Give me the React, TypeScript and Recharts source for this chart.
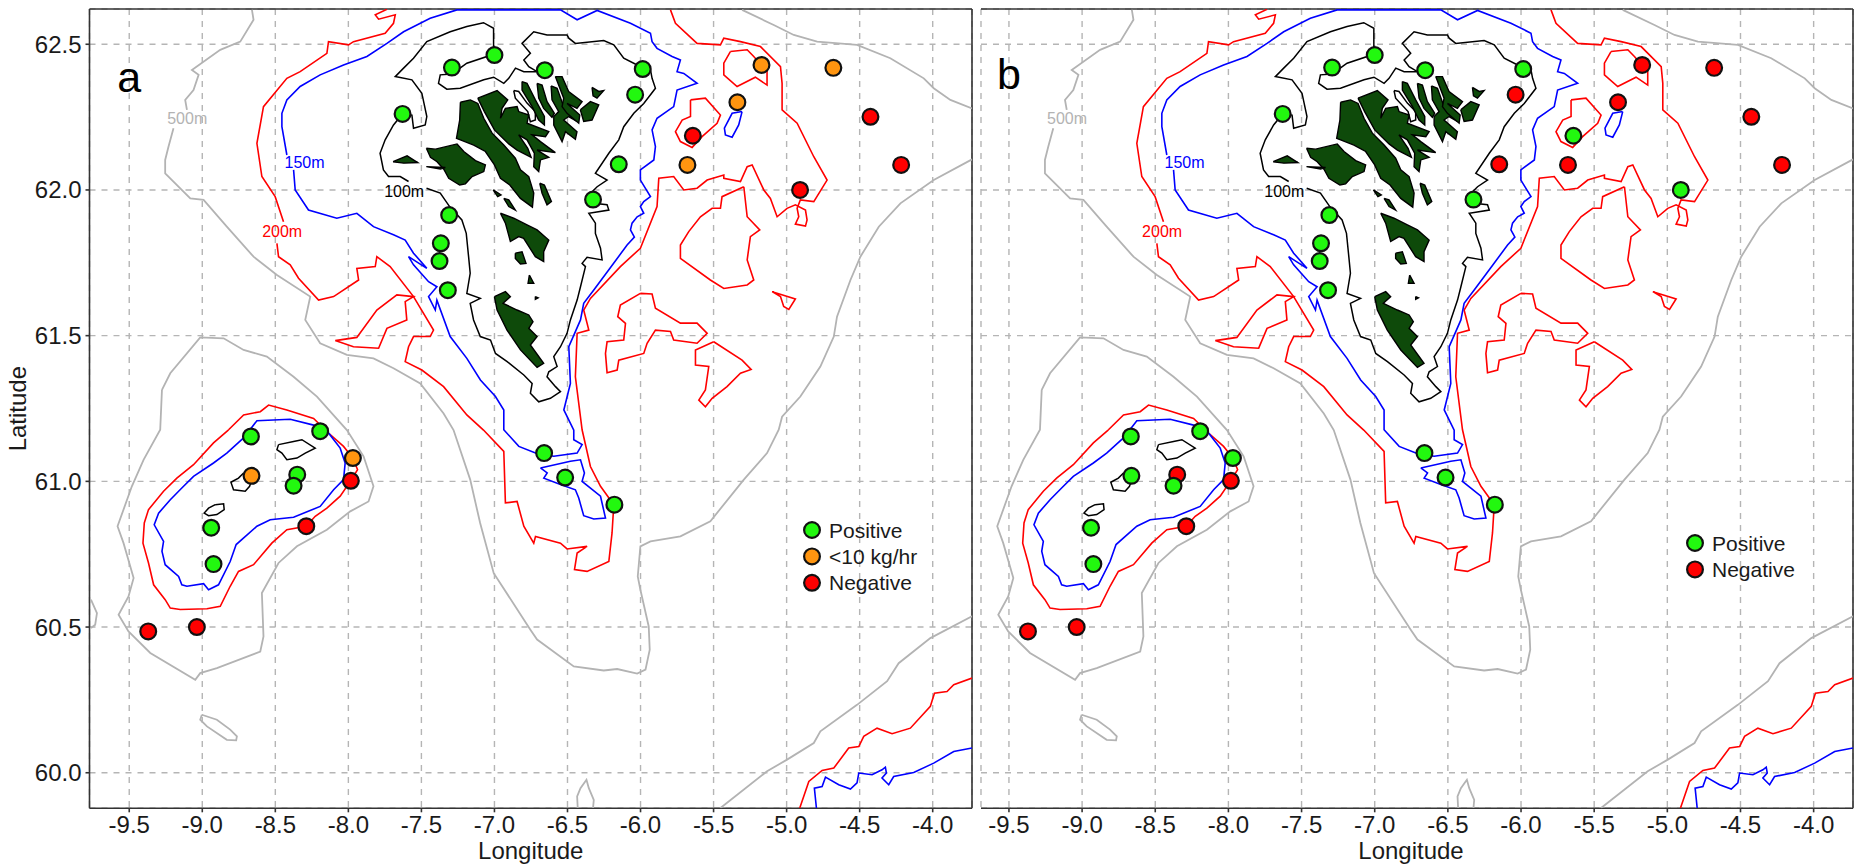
import { CartesianGrid, Legend, ReferenceDot, ReferenceLine, Scatter, ScatterChart, XAxis, YAxis } from "recharts"

type Pt = [number, number]
type Status = "pos" | "low" | "neg"

const lonTicks = [-9.5, -9, -8.5, -8, -7.5, -7, -6.5, -6, -5.5, -5, -4.5, -4]
const latTicks = [60, 60.5, 61, 61.5, 62, 62.5]

// 500 m contours
const grey500Main: Pt[] = [[-8.66,62.618],[-8.649,62.584],[-8.74,62.509],[-8.877,62.481],[-9.071,62.412],[-9.025,62.395],[-9.06,62.343],[-9.117,62.309],[-9.105,62.275]]
const grey500Shelf: Pt[] = [[-9.197,62.212],[-9.231,62.149],[-9.254,62.103],[-9.254,62.057],[-9.082,61.971],[-8.991,61.966],[-8.832,61.874],[-8.649,61.771],[-8.489,61.708],[-8.261,61.634],[-8.295,61.554],[-8.193,61.474],[-8.01,61.434],[-7.828,61.422],[-7.691,61.388],[-7.508,61.336],[-7.348,61.233],[-7.28,61.176],[-7.166,61.006],[-7.098,60.857],[-7.005,60.685],[-6.754,60.491],[-6.708,60.457],[-6.457,60.365],[-6.252,60.351],[-6.16,60.356],[-6.023,60.34],[-5.966,60.354],[-5.937,60.422],[-5.944,60.502],[-6.001,60.628],[-6.019,60.674],[-6.001,60.777],[-5.932,60.794],[-5.727,60.811],[-5.522,60.863],[-5.293,61.006],[-5.134,61.097],[-5.054,61.177],[-5.031,61.222],[-4.906,61.291],[-4.769,61.394],[-4.677,61.497],[-4.655,61.565],[-4.563,61.691],[-4.495,61.771],[-4.369,61.874],[-4.221,61.954],[-3.993,62.034],[-3.731,62.105]]
const grey500North: Pt[] = [[-5.305,62.618],[-5.088,62.566],[-4.951,62.532],[-4.791,62.509],[-4.518,62.498],[-4.29,62.452],[-4.061,62.383],[-3.993,62.349],[-3.879,62.309],[-3.731,62.28]]
const grey500Bailey: Pt[] = [[-9.276,61.314],[-9.219,61.371],[-9.014,61.494],[-8.854,61.491],[-8.717,61.451],[-8.558,61.428],[-8.375,61.359],[-8.215,61.291],[-8.01,61.176],[-7.896,61.086],[-7.828,60.983],[-7.862,60.931],[-7.987,60.897],[-8.147,60.834],[-8.352,60.777],[-8.478,60.72],[-8.592,60.617],[-8.581,60.468],[-8.603,60.416],[-8.9,60.359],[-9.014,60.342],[-9.048,60.319],[-9.356,60.411],[-9.505,60.485],[-9.573,60.542],[-9.505,60.605],[-9.47,60.668],[-9.539,60.788],[-9.58,60.846],[-9.482,60.983],[-9.402,61.074],[-9.288,61.177],[-9.276,61.314]]
const grey500Edge: Pt[] = [[-9.762,60.594],[-9.721,60.548],[-9.733,60.508],[-9.762,60.497]]
const grey500Blob: Pt[] = [[-9.003,60.199],[-8.9,60.182],[-8.809,60.148],[-8.763,60.125],[-8.768,60.111],[-8.832,60.113],[-8.968,60.159],[-9.014,60.182],[-9.003,60.199]]
const grey500South: Pt[] = [[-6.43,59.879],[-6.434,59.919],[-6.411,59.947],[-6.37,59.976],[-6.354,59.947],[-6.32,59.907],[-6.325,59.879]]
const grey500Corner: Pt[] = [[-5.453,59.879],[-5.134,60.005],[-4.997,60.045],[-4.814,60.102],[-4.769,60.142],[-4.518,60.233],[-4.312,60.314],[-4.233,60.376],[-4.016,60.462],[-3.731,60.537]]

// 200 m contours
const red200North: Pt[] = [[-7.736,62.62],[-7.816,62.601],[-7.793,62.586],[-7.679,62.601],[-7.691,62.572],[-7.748,62.538],[-7.965,62.509],[-7.999,62.498],[-8.136,62.509],[-8.147,62.469],[-8.33,62.406],[-8.421,62.383],[-8.581,62.286],[-8.626,62.16],[-8.592,62.046],[-8.501,61.977],[-8.444,61.891]]
const red200Main: Pt[] = [[-8.489,61.817],[-8.478,61.771],[-8.398,61.743],[-8.341,61.697],[-8.204,61.622],[-8.101,61.634],[-7.93,61.691],[-7.942,61.731],[-7.816,61.737],[-7.805,61.771],[-7.714,61.737],[-7.554,61.634],[-7.417,61.519],[-7.44,61.497],[-7.554,61.497],[-7.588,61.462],[-7.611,61.411],[-7.497,61.382],[-7.348,61.325],[-7.189,61.228],[-7.075,61.176],[-6.936,61.103],[-6.925,60.926],[-6.845,60.931],[-6.799,60.846],[-6.731,60.788],[-6.719,60.811],[-6.548,60.788],[-6.503,60.768],[-6.366,60.777],[-6.434,60.754],[-6.452,60.697],[-6.366,60.691],[-6.217,60.725],[-6.195,60.823],[-6.183,60.92],[-6.274,60.983],[-6.343,61.051],[-6.4,61.177],[-6.446,61.359],[-6.434,61.508],[-6.354,61.519],[-6.389,61.588],[-6.343,61.628],[-6.138,61.737],[-6.001,61.8],[-5.887,61.943],[-5.875,62.04],[-5.773,62.046],[-5.704,62],[-5.613,62.006],[-5.544,62.034],[-5.43,62.051],[-5.43,62.04],[-5.316,62.029],[-5.27,62.08],[-5.236,62.086],[-5.156,62],[-5.111,61.971],[-5.065,61.908],[-4.997,61.937],[-4.94,61.949],[-4.871,61.931],[-4.86,61.897],[-4.871,61.876],[-4.94,61.883],[-4.917,61.908],[-4.928,61.937],[-4.906,61.966],[-4.814,61.96],[-4.723,62.034],[-4.814,62.114],[-4.928,62.229],[-5.031,62.275],[-5.031,62.366],[-5.042,62.423],[-5.179,62.492],[-5.316,62.509],[-5.43,62.521],[-5.453,62.498],[-5.613,62.503],[-5.761,62.572],[-5.795,62.618]]
const red200LoopA: Pt[] = [[-5.385,62.475],[-5.27,62.481],[-5.225,62.458],[-5.134,62.406],[-5.134,62.36],[-5.214,62.387],[-5.339,62.355],[-5.43,62.395],[-5.43,62.435],[-5.385,62.475]]
const red200LoopB: Pt[] = [[-5.658,62.309],[-5.556,62.315],[-5.453,62.257],[-5.476,62.229],[-5.579,62.183],[-5.647,62.146],[-5.727,62.166],[-5.761,62.2],[-5.715,62.24],[-5.658,62.252],[-5.658,62.309]]
const red200Triangle: Pt[] = [[-5.293,62.011],[-5.27,61.908],[-5.184,61.863],[-5.248,61.84],[-5.27,61.76],[-5.225,61.691],[-5.27,61.674],[-5.43,61.662],[-5.522,61.691],[-5.727,61.765],[-5.727,61.811],[-5.67,61.857],[-5.59,61.908],[-5.51,61.937],[-5.453,61.937],[-5.442,61.977],[-5.293,62.011]]
const red200Small: Pt[] = [[-5.099,61.651],[-4.94,61.626],[-4.985,61.59],[-5.02,61.6],[-5.042,61.634],[-5.099,61.651]]
const red200Long: Pt[] = [[-6.001,61.645],[-5.921,61.643],[-5.898,61.594],[-5.727,61.543],[-5.613,61.543],[-5.544,61.508],[-5.613,61.474],[-5.773,61.485],[-5.795,61.514],[-5.898,61.519],[-5.955,61.474],[-5.978,61.439],[-6.149,61.416],[-6.16,61.382],[-6.229,61.373],[-6.24,61.439],[-6.229,61.479],[-6.115,61.485],[-6.103,61.542],[-6.156,61.565],[-6.138,61.605],[-6.001,61.645]]
const red200Hook: Pt[] = [[-5.499,61.479],[-5.305,61.416],[-5.243,61.384],[-5.316,61.371],[-5.408,61.325],[-5.51,61.285],[-5.556,61.256],[-5.601,61.279],[-5.556,61.314],[-5.533,61.394],[-5.624,61.399],[-5.624,61.451],[-5.499,61.479]]
const red200West: Pt[] = [[-8.09,61.483],[-7.942,61.494],[-7.805,61.588],[-7.668,61.64],[-7.554,61.634],[-7.611,61.617],[-7.6,61.554],[-7.736,61.525],[-7.793,61.457],[-7.965,61.462],[-8.09,61.483]]
const red200Bailey: Pt[] = [[-8.82,61.177],[-8.717,61.228],[-8.603,61.239],[-8.546,61.262],[-8.421,61.245],[-8.238,61.216],[-8.136,61.166],[-8.033,61.12],[-7.969,61.08],[-7.937,61.04],[-7.987,61],[-8.056,60.949],[-8.147,60.908],[-8.227,60.88],[-8.288,60.846],[-8.421,60.834],[-8.524,60.788],[-8.649,60.714],[-8.752,60.691],[-8.809,60.64],[-8.877,60.571],[-8.968,60.563],[-9.151,60.56],[-9.219,60.565],[-9.254,60.594],[-9.333,60.645],[-9.368,60.72],[-9.406,60.788],[-9.397,60.857],[-9.368,60.903],[-9.265,60.966],[-9.174,61.011],[-9.06,61.057],[-8.923,61.132],[-8.82,61.177]]
const red200Corner: Pt[] = [[-4.91,59.879],[-4.848,59.97],[-4.757,60.008],[-4.677,60.016],[-4.575,60.085],[-4.506,60.09],[-4.472,60.125],[-4.381,60.153],[-4.278,60.134],[-4.153,60.153],[-4.016,60.228],[-3.988,60.273],[-3.902,60.279],[-3.856,60.302],[-3.731,60.325]]

// 150 m contours
const blue150North: Pt[] = [[-8.421,62.12],[-8.455,62.217],[-8.455,62.263],[-8.421,62.309],[-8.33,62.355],[-8.193,62.395],[-8.033,62.429],[-7.873,62.458],[-7.736,62.503],[-7.622,62.543],[-7.44,62.589],[-7.257,62.618],[-6.548,62.618],[-6.434,62.584],[-6.297,62.616],[-6.069,62.572],[-5.932,62.538],[-5.921,62.509],[-5.887,62.486],[-5.784,62.458],[-5.727,62.446],[-5.75,62.406],[-5.704,62.4],[-5.613,62.366],[-5.75,62.343],[-5.773,62.286],[-5.887,62.246],[-5.921,62.206],[-5.898,62.149],[-5.909,62.103],[-6.001,62.069],[-6.001,62.034],[-5.932,61.977],[-5.978,61.96],[-6.001,61.943],[-5.978,61.92],[-6.023,61.908],[-6.058,61.886],[-6.069,61.863],[-6.042,61.838],[-6.092,61.811],[-6.217,61.726],[-6.32,61.657],[-6.389,61.611],[-6.411,61.554],[-6.491,61.462],[-6.48,61.336],[-6.525,61.245],[-6.457,61.176],[-6.457,61.143],[-6.4,61.126],[-6.434,61.097],[-6.594,61.086],[-6.719,61.097],[-6.833,61.12],[-6.936,61.177],[-6.936,61.245],[-6.993,61.291],[-7.096,61.348],[-7.189,61.422],[-7.303,61.497],[-7.394,61.622],[-7.405,61.588],[-7.451,61.634],[-7.394,61.668],[-7.451,61.685],[-7.554,61.743],[-7.588,61.771],[-7.463,61.731],[-7.554,61.783],[-7.611,61.828],[-7.691,61.846],[-7.828,61.874],[-7.942,61.92],[-8.079,61.903],[-8.273,61.931],[-8.364,62],[-8.375,62.069]]
const blue150Loop: Pt[] = [[-6.685,61.046],[-6.48,61.069],[-6.411,61.074],[-6.384,61.029],[-6.4,61],[-6.274,60.949],[-6.24,60.874],[-6.32,60.871],[-6.389,60.882],[-6.423,60.943],[-6.446,60.971],[-6.548,60.989],[-6.662,61.011],[-6.639,61.029],[-6.685,61.046]]
const blue150Small: Pt[] = [[-5.305,62.269],[-5.328,62.223],[-5.373,62.181],[-5.419,62.189],[-5.426,62.212],[-5.373,62.263],[-5.305,62.269]]
const blue150Bailey: Pt[] = [[-8.717,61.149],[-8.832,61.097],[-8.923,61.063],[-9.06,61.017],[-9.14,60.977],[-9.219,60.937],[-9.299,60.891],[-9.329,60.851],[-9.265,60.794],[-9.276,60.76],[-9.254,60.714],[-9.162,60.674],[-9.14,60.645],[-9.105,60.64],[-8.991,60.649],[-8.957,60.628],[-8.889,60.645],[-8.809,60.725],[-8.768,60.783],[-8.626,60.846],[-8.535,60.868],[-8.375,60.877],[-8.193,60.914],[-8.101,60.971],[-8.033,61.006],[-8.022,61.063],[-8.056,61.114],[-8.136,61.166],[-8.238,61.193],[-8.398,61.213],[-8.626,61.208],[-8.717,61.149]]
const blue150Corner: Pt[] = [[-4.796,59.879],[-4.81,59.947],[-4.757,59.953],[-4.734,59.985],[-4.643,59.959],[-4.563,59.944],[-4.518,59.965],[-4.506,59.999],[-4.415,59.993],[-4.347,60.01],[-4.324,60.019],[-4.317,59.999],[-4.347,59.982],[-4.301,59.959],[-4.267,59.987],[-4.13,60.001],[-3.993,60.033],[-3.856,60.073],[-3.731,60.085]]

// 100 m contours
const black100Main: Pt[] = [[-7.465,62.006],[-7.371,61.989],[-7.307,61.943],[-7.223,61.897],[-7.193,61.851],[-7.177,61.771],[-7.166,61.714],[-7.189,61.645],[-7.097,61.628],[-7.166,61.611],[-7.143,61.554],[-7.097,61.497],[-7.027,61.485],[-6.993,61.439],[-6.913,61.411],[-6.799,61.365],[-6.742,61.336],[-6.754,61.302],[-6.697,61.273],[-6.617,61.285],[-6.548,61.308],[-6.582,61.325],[-6.64,61.359],[-6.628,61.376],[-6.571,61.394],[-6.594,61.428],[-6.548,61.462],[-6.503,61.508],[-6.48,61.554],[-6.434,61.622],[-6.411,61.668],[-6.377,61.737],[-6.4,61.748],[-6.366,61.769],[-6.263,61.76],[-6.274,61.8],[-6.309,61.851],[-6.309,61.886],[-6.354,61.92],[-6.217,61.931],[-6.229,61.949],[-6.32,61.954],[-6.366,61.977],[-6.297,62.011],[-6.229,62.034],[-6.309,62.057],[-6.217,62.126],[-6.149,62.172],[-6.115,62.217],[-6.046,62.263],[-5.978,62.297],[-5.898,62.349],[-5.921,62.383],[-5.932,62.412],[-6.023,62.429],[-6.115,62.452],[-6.183,62.498],[-6.252,62.513],[-6.446,62.503],[-6.491,62.521],[-6.503,62.532],[-6.64,62.532],[-6.731,62.543],[-6.811,62.503],[-6.754,62.469],[-6.799,62.446],[-6.765,62.423],[-6.708,62.406],[-6.799,62.406],[-6.856,62.418],[-6.902,62.383],[-6.936,62.366],[-7.005,62.387],[-7.073,62.378],[-7.234,62.349],[-7.326,62.346],[-7.383,62.366],[-7.371,62.395],[-7.291,62.398],[-7.189,62.435],[-7.052,62.458],[-7.006,62.492],[-7.006,62.555],[-7.075,62.574],[-7.189,62.561],[-7.303,62.543],[-7.463,62.509],[-7.554,62.452],[-7.622,62.418],[-7.679,62.389],[-7.565,62.378],[-7.497,62.332],[-7.463,62.252],[-7.474,62.223],[-7.554,62.212],[-7.565,62.257],[-7.629,62.261],[-7.691,62.223],[-7.748,62.172],[-7.783,62.126],[-7.76,62.069],[-7.725,62.046],[-7.645,62.046],[-7.588,62.029]]
const black100IslandA: Pt[] = [[-8.478,61.126],[-8.375,61.137],[-8.318,61.143],[-8.227,61.114],[-8.295,61.097],[-8.352,61.08],[-8.421,61.074],[-8.455,61.097],[-8.489,61.109],[-8.478,61.126]]
const black100IslandB: Pt[] = [[-8.717,61.029],[-8.66,61.006],[-8.676,60.983],[-8.706,60.966],[-8.786,60.971],[-8.804,60.997],[-8.752,61.011],[-8.717,61.029]]
const black100IslandC: Pt[] = [[-8.911,60.92],[-8.854,60.923],[-8.85,60.903],[-8.9,60.886],[-8.957,60.882],[-8.987,60.891],[-8.957,60.908],[-8.911,60.92]]
const black100Sliver: Pt[] = [[-6.868,62.341],[-6.834,62.338],[-6.777,62.298],[-6.72,62.269],[-6.72,62.24],[-6.754,62.234],[-6.772,62.269],[-6.857,62.315],[-6.868,62.341]]

// Land
const streymoy: Pt[] = [[-7.233,62.301],[-7.165,62.309],[-7.114,62.297],[-7.073,62.246],[-7.016,62.195],[-6.936,62.154],[-6.857,62.109],[-6.822,62.069],[-6.765,62.046],[-6.731,61.989],[-6.74,61.941],[-6.822,61.971],[-6.895,62.017],[-6.959,62.04],[-7,62.086],[-7.062,62.132],[-7.142,62.154],[-7.26,62.177],[-7.238,62.24],[-7.233,62.301]]
const eysturoy: Pt[] = [[-7.114,62.315],[-6.982,62.341],[-6.909,62.309],[-6.948,62.28],[-6.959,62.246],[-6.925,62.28],[-6.845,62.286],[-6.834,62.269],[-6.765,62.257],[-6.777,62.229],[-6.628,62.2],[-6.651,62.183],[-6.743,62.189],[-6.685,62.166],[-6.583,62.128],[-6.708,62.137],[-6.628,62.112],[-6.685,62.103],[-6.697,62.063],[-6.731,62.08],[-6.727,62.126],[-6.777,62.172],[-6.834,62.189],[-6.772,62.143],[-6.749,62.112],[-6.845,62.137],[-6.902,62.158],[-7,62.206],[-7.069,62.269],[-7.114,62.315]]
const vagar: Pt[] = [[-7.466,62.143],[-7.404,62.14],[-7.256,62.158],[-7.21,62.132],[-7.13,62.101],[-7.062,62.086],[-7.073,62.063],[-7.153,62.046],[-7.199,62.021],[-7.238,62.017],[-7.313,62.04],[-7.347,62.071],[-7.393,62.097],[-7.438,62.112],[-7.466,62.143]]
const tindholmur: Pt[] = [[-7.466,62.08],[-7.336,62.077],[-7.37,62.072],[-7.466,62.08]]
const kalsoy: Pt[] = [[-6.811,62.372],[-6.777,62.366],[-6.72,62.309],[-6.658,62.252],[-6.658,62.223],[-6.697,62.24],[-6.742,62.286],[-6.811,62.343],[-6.811,62.372]]
const kunoy: Pt[] = [[-6.708,62.366],[-6.674,62.36],[-6.64,62.303],[-6.59,62.263],[-6.606,62.249],[-6.663,62.28],[-6.697,62.315],[-6.708,62.366]]
const bordoy: Pt[] = [[-6.612,62.357],[-6.571,62.349],[-6.526,62.286],[-6.435,62.235],[-6.492,62.252],[-6.526,62.24],[-6.435,62.2],[-6.446,62.174],[-6.514,62.2],[-6.537,62.166],[-6.594,62.223],[-6.594,62.252],[-6.56,62.269],[-6.606,62.309],[-6.612,62.357]]
const vidoy: Pt[] = [[-6.583,62.389],[-6.537,62.389],[-6.492,62.338],[-6.4,62.303],[-6.435,62.28],[-6.503,62.297],[-6.416,62.257],[-6.423,62.229],[-6.503,62.263],[-6.537,62.286],[-6.526,62.315],[-6.583,62.389]]
const svinoy: Pt[] = [[-6.412,62.275],[-6.343,62.303],[-6.286,62.292],[-6.332,62.24],[-6.389,62.235],[-6.412,62.275]]
const fugloy: Pt[] = [[-6.332,62.352],[-6.286,62.338],[-6.252,62.341],[-6.298,62.315],[-6.325,62.323],[-6.332,62.352]]
const mykines: Pt[] = [[-7.694,62.097],[-7.598,62.117],[-7.525,62.094],[-7.621,62.092],[-7.694,62.097]]
const nolsoy: Pt[] = [[-6.69,62.023],[-6.658,62.017],[-6.61,61.96],[-6.64,61.949],[-6.674,61.989],[-6.69,62.023]]
const koltur: Pt[] = [[-7.009,62],[-6.955,61.983],[-6.978,61.977],[-7.009,62]]
const hestur: Pt[] = [[-6.936,61.971],[-6.902,61.966],[-6.857,61.931],[-6.902,61.943],[-6.936,61.971]]
const sandoy: Pt[] = [[-6.959,61.92],[-6.868,61.903],[-6.777,61.88],[-6.708,61.863],[-6.628,61.828],[-6.663,61.788],[-6.663,61.754],[-6.72,61.771],[-6.8,61.834],[-6.834,61.84],[-6.891,61.823],[-6.925,61.886],[-6.959,61.92]]
const skuvoy: Pt[] = [[-6.857,61.783],[-6.811,61.788],[-6.784,61.748],[-6.822,61.746],[-6.857,61.765],[-6.857,61.783]]
const storaDimun: Pt[] = [[-6.761,61.708],[-6.731,61.68],[-6.77,61.68],[-6.761,61.708]]
const litlaDimun: Pt[] = [[-6.72,61.634],[-6.701,61.63],[-6.72,61.625],[-6.72,61.634]]
const suduroy: Pt[] = [[-7,61.634],[-6.925,61.651],[-6.891,61.634],[-6.941,61.611],[-6.845,61.588],[-6.765,61.571],[-6.736,61.548],[-6.765,61.525],[-6.708,61.497],[-6.754,61.468],[-6.663,61.405],[-6.708,61.391],[-6.822,61.451],[-6.914,61.519],[-6.982,61.588],[-7,61.634]]

// Stations: longitude, latitude, result in panel a, result in panel b
const stationLon = [-7.291,-7,-6.655,-5.985,-6.037,-7.629,-6.149,-6.325,-7.31,-7.367,-7.376,-7.319,-6.66,-6.516,-6.179,-8.667,-8.193,-8.35,-8.375,-8.939,-8.923,-8.663,-7.969,-5.172,-4.68,-5.337,-5.679,-5.642,-4.908,-4.426,-4.216,-7.983,-8.288,-9.37,-9.037]
const stationLat = [62.42,62.463,62.411,62.415,62.327,62.261,62.088,61.967,61.914,61.817,61.756,61.656,61.097,61.013,60.92,61.154,61.172,61.023,60.985,60.841,60.716,61.019,61.08,62.429,62.419,62.301,62.086,62.186,62,62.251,62.086,61.002,60.846,60.485,60.5]
const resultA: Status[] = ["pos","pos","pos","pos","pos","pos","pos","pos","pos","pos","pos","pos","pos","pos","pos","pos","pos","pos","pos","pos","pos","low","low","low","low","low","low","neg","neg","neg","neg","neg","neg","neg","neg"]
const resultB: Status[] = ["pos","pos","pos","pos","neg","pos","neg","pos","pos","pos","pos","pos","pos","pos","pos","pos","pos","neg","pos","pos","pos","pos","pos","neg","neg","neg","neg","pos","pos","neg","neg","neg","neg","neg","neg"]

const contourLabels = [
  { text: "500m", lon: -9.103, lat: 62.246, color: "#b3b3b3" },
  { text: "150m", lon: -8.3, lat: 62.095, color: "#0000ff" },
  { text: "200m", lon: -8.453, lat: 61.857, color: "#ff0000" },
  { text: "100m", lon: -7.618, lat: 61.997, color: "#000000" },
]

const statusColor: Record<Status, string> = { pos: "#22f80f", low: "#ff9510", neg: "#ff0000" }
const statusName: Record<Status, string> = { pos: "Positive", low: "<10 kg/hr", neg: "Negative" }

const GREY = "#b3b3b3"
const LAND = "#0e4a0a"
const contours: [Pt[], string, number][] = [
  ...[grey500Main, grey500Shelf, grey500North, grey500Bailey, grey500Edge, grey500Blob, grey500South, grey500Corner].map((p) => [p, GREY, 1.8] as [Pt[], string, number]),
  ...[red200North, red200Main, red200LoopA, red200LoopB, red200Triangle, red200Small, red200Long, red200Hook, red200West, red200Bailey, red200Corner].map((p) => [p, "#ff0000", 1.6] as [Pt[], string, number]),
  ...[blue150North, blue150Loop, blue150Small, blue150Bailey, blue150Corner].map((p) => [p, "#0000ff", 1.6] as [Pt[], string, number]),
  ...[black100Main, black100IslandA, black100IslandB, black100IslandC, black100Sliver].map((p) => [p, "#000000", 1.5] as [Pt[], string, number]),
]
const islands = [streymoy, eysturoy, vagar, tindholmur, kalsoy, kunoy, bordoy, vidoy, svinoy, fugloy, mykines, nolsoy, koltur, hestur, sandoy, skuvoy, storaDimun, litlaDimun, suduroy]

const toRows = (pts: Pt[]) => pts.map(([lon, lat]) => ({ lon, lat }))
const noMark = () => null

const AXIS = "#333333"
const FONT = "Liberation Sans, Arial, sans-serif"
const latDomain: [number, number] = [59.878, 62.621]
const lonMax = -3.731

function MapLegend({ items }: { items: Status[] }) {
  return (
    <svg width={150} height={items.length * 26.4 + 10} style={{ display: "block" }}>
      {items.map((s, i) => (
        <g key={s} transform={`translate(10,${13 + i * 26.4})`}>
          <circle r={7.9} fill={statusColor[s]} stroke="#111" strokeWidth={2.2} />
          <text x={17} y={7.5} fontSize={21} fill="#1a1a1a" fontFamily={FONT}>{statusName[s]}</text>
        </g>
      ))}
    </svg>
  )
}

function Panel({ letter, letterLat, left, width, lonMin, marginLeft, marginRight, results, legendItems, legendLeft, legendTop, showLat, lonLabelDx }: any) {
  const groups: Status[] = ["neg", "low", "pos"]
  return (
    <div style={{ position: "absolute", left, top: 0 }}>
      <ScatterChart width={width} height={866} margin={{ top: 9, right: marginRight, bottom: 0, left: marginLeft }}>
        <CartesianGrid stroke="#b5b5b5" strokeWidth={1.4} strokeDasharray="6 6" />
        <XAxis
          type="number"
          dataKey="lon"
          domain={[lonMin, lonMax]}
          ticks={lonTicks}
          allowDataOverflow
          interval={0}
          height={57.7}
          tickFormatter={(v: number) => v.toFixed(1)}
          tick={{ fontSize: 24, fill: "#1a1a1a", fontFamily: FONT }}
          tickSize={4}
          tickMargin={4}
          stroke={AXIS}
          strokeWidth={1.6}
          label={{ value: "Longitude", position: "insideBottom", offset: 7, dx: lonLabelDx, fontSize: 24, fill: "#1a1a1a", fontFamily: FONT }}
        />
        <YAxis
          type="number"
          dataKey="lat"
          domain={latDomain}
          ticks={latTicks}
          allowDataOverflow
          interval={0}
          hide={!showLat}
          width={89.5}
          tickFormatter={(v: number) => v.toFixed(1)}
          tick={{ fontSize: 24, fill: "#1a1a1a", fontFamily: FONT }}
          tickSize={4}
          tickMargin={4}
          stroke={AXIS}
          strokeWidth={1.6}
          label={{ value: "Latitude", angle: -90, position: "center", dx: -27.5, fontSize: 24, fill: "#1a1a1a", fontFamily: FONT }}
        />
        {contours.map(([pts, color, w], i) => (
          <Scatter key={i} data={toRows(pts)} shape={noMark} line={{ stroke: color, strokeWidth: w }} isAnimationActive={false} />
        ))}
        {islands.map((pts, i) => (
          <Scatter key={`land${i}`} data={toRows(pts)} shape={noMark} line={{ stroke: "#000", strokeWidth: 1.4, fill: LAND }} isAnimationActive={false} />
        ))}
        {contourLabels.map((l) => (
          <ReferenceDot key={l.text} x={l.lon} y={l.lat} r={0} stroke="none" label={{ value: l.text, position: "center", fontSize: 16, fill: l.color, fontFamily: FONT }} />
        ))}
        <ReferenceDot x={-9.5} y={letterLat} r={0} stroke="none" label={{ value: letter, position: "center", fontSize: 43, fill: "#000", fontFamily: FONT }} />
        {groups.map((g) => (
          <Scatter
            key={g}
            data={stationLon.map((lon, i) => ({ lon, lat: stationLat[i], result: results[i] })).filter((d) => d.result === g)}
            shape={(p: any) => <circle cx={p.cx} cy={p.cy} r={7.9} fill={statusColor[g]} stroke="#111" strokeWidth={2.2} />}
            isAnimationActive={false}
          />
        ))}
        <ReferenceLine y={latDomain[1]} stroke={AXIS} strokeWidth={1.6} />
        <ReferenceLine x={lonMax} stroke={AXIS} strokeWidth={1.6} />
        <Legend
          verticalAlign="middle"
          content={() => <MapLegend items={legendItems} />}
          wrapperStyle={{ left: legendLeft, top: legendTop, bottom: "auto", width: 150 }}
        />
      </ScatterChart>
    </div>
  )
}

export default function App() {
  return (
    <div style={{ position: "absolute", left: 0, top: 0, width: 1861, height: 866, background: "#fff" }}>
      <Panel
        letter="a"
        letterLat={62.387}
        left={0}
        width={980}
        lonMin={-9.772}
        marginLeft={0}
        marginRight={8}
        results={resultA}
        legendItems={["pos", "low", "neg"]}
        legendLeft={802}
        legendTop={517}
        showLat
        lonLabelDx={0}
      />
      <Panel
        letter="b"
        letterLat={62.398}
        left={960}
        width={901}
        lonMin={-9.691}
        marginLeft={21}
        marginRight={8}
        results={resultB}
        legendItems={["pos", "neg"]}
        legendLeft={725}
        legendTop={530}
        showLat={false}
        lonLabelDx={-6}
      />
    </div>
  )
}
